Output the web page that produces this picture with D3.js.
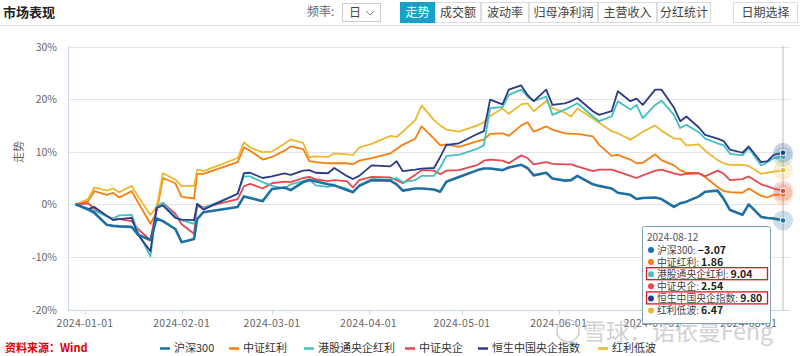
<!DOCTYPE html>
<html><head><meta charset="utf-8">
<script src="https://cdn.jsdelivr.net/npm/d3@7"></script>
<style>
body{margin:0;background:#fff;font-family:"Noto Sans CJK SC","Noto Sans",sans-serif;}
svg{display:block}
</style></head><body>
<svg id="chart" width="800" height="356"></svg>
<script>
const dates = ["2023-12-29","2024-01-02","2024-01-04","2024-01-08","2024-01-10","2024-01-12","2024-01-16","2024-01-18","2024-01-22","2024-01-24","2024-01-26","2024-01-30","2024-02-01","2024-02-05","2024-02-06","2024-02-08","2024-02-19","2024-02-21","2024-02-23","2024-02-27","2024-03-01","2024-03-05","2024-03-07","2024-03-11","2024-03-13","2024-03-15","2024-03-19","2024-03-21","2024-03-25","2024-03-27","2024-03-29","2024-04-02","2024-04-08","2024-04-10","2024-04-12","2024-04-16","2024-04-18","2024-04-22","2024-04-24","2024-04-26","2024-04-30","2024-05-06","2024-05-08","2024-05-10","2024-05-14","2024-05-16","2024-05-20","2024-05-22","2024-05-24","2024-05-28","2024-05-30","2024-06-03","2024-06-05","2024-06-07","2024-06-12","2024-06-14","2024-06-18","2024-06-20","2024-06-24","2024-06-26","2024-06-28","2024-07-02","2024-07-04","2024-07-08","2024-07-10","2024-07-12","2024-07-16","2024-07-18","2024-07-22","2024-07-24","2024-07-26","2024-07-30","2024-08-01","2024-08-05","2024-08-07","2024-08-09","2024-08-12"];

const hs300 = [0,-1.0,-1.6,-3.9,-4.1,-4.2,-4.3,-5.8,-6.8,-2.7,-3.2,-4.7,-7.2,-6.6,-2.8,-1.5,-0.5,1.5,1.2,0.6,2.9,3.2,2.7,4.2,4.6,4.4,3.8,3.6,2.7,2.3,3.5,4.6,4.5,3.8,2.6,3.0,3.0,2.8,2.4,4.3,5.2,6.5,6.8,6.8,6.5,7.0,7.5,6.9,5.5,6.0,4.9,4.5,4.6,5.4,3.8,3.5,3.0,2.2,1.8,1.0,1.2,1.3,1.0,-0.5,0.2,0.5,1.5,2.4,2.6,1.0,-1.1,-2.0,0.0,-2.4,-2.6,-2.7,-3.07];

const zzhl = [0,0.6,2.5,1.8,2.2,1.3,2.5,0.4,-3.7,-1.5,5.0,4.0,1.4,1.1,5.8,5.8,8.0,10.8,10.2,8.5,9.0,10.2,11.0,10.5,8.2,8.0,7.8,7.8,7.8,7.6,8.3,8.8,9.7,10.5,11.3,12.5,14.8,12.5,11.2,11.4,10.9,12.0,12.3,13.4,13.5,13.0,15.0,15.6,13.8,14.8,14.2,13.5,13.4,13.4,12.9,11.3,9.2,9.4,8.5,7.8,7.9,9.5,8.4,7.4,6.5,6.0,5.9,5.2,3.3,2.5,2.3,2.2,3.0,1.6,1.3,1.8,1.86];

const ggtyq = [0,-0.8,-1.2,-2.3,-2.7,-2.1,-2.0,-5.3,-9.9,-0.4,0.3,-2.4,-3.0,-3.7,-0.4,-0.7,2.0,5.3,5.3,4.2,3.5,3.0,3.8,4.4,4.8,3.6,3.3,3.6,3.0,2.3,3.6,4.8,4.7,5.0,4.2,4.6,5.4,5.4,7.0,9.2,9.4,10.6,11.2,18.3,18.5,20.8,21.8,20.5,19.6,20.5,17.0,18.0,18.6,19.2,16.7,15.8,16.7,19.6,18.0,18.9,16.4,18.9,19.7,17.0,14.5,15.1,13.7,12.5,11.6,11.2,9.6,9.3,10.7,7.4,8.0,8.8,9.04];

const zzyq = [0,0.2,-0.8,-2.2,-2.8,-2.8,-3.2,-4.7,-6.8,-0.5,0.25,-1.8,-3.8,-5.6,0.0,-0.6,1.0,3.4,3.9,3.0,4.0,4.3,4.2,5.0,5.2,4.8,4.4,4.6,4.4,3.2,4.6,5.2,5.1,4.6,4.0,5.6,6.5,6.4,5.7,6.4,6.5,7.5,8.3,8.5,8.3,7.8,9.3,8.8,7.6,8.0,7.7,7.6,7.6,7.2,6.3,6.6,6.6,6.2,5.4,5.0,5.5,6.4,6.6,5.9,5.6,5.8,5.9,5.3,6.4,5.8,4.6,4.8,5.3,3.8,3.4,3.0,2.54];

const hszy = [0,-0.9,-0.5,-2.2,-3.0,-2.8,-2.6,-5.8,-8.9,-0.7,-0.2,-2.6,-2.9,-3.0,0.1,-1.0,2.0,5.9,6.0,5.0,5.3,5.9,5.6,6.4,6.5,6.0,5.9,6.9,5.4,4.8,5.4,7.4,7.2,8.2,6.3,6.6,6.8,6.9,9.0,11.3,11.6,13.4,13.9,19.9,19.0,21.8,22.6,20.8,19.6,21.8,18.9,19.2,19.6,20.2,17.7,17.0,17.7,21.5,19.6,20.1,18.9,21.8,21.8,18.4,15.8,16.7,14.6,13.2,12.5,12.0,10.4,9.8,11.0,8.0,8.2,9.4,9.80];

const hldb = [0,1.0,3.2,2.6,3.0,2.3,3.5,1.5,-2.0,-0.5,5.9,4.7,3.5,3.5,6.6,6.3,8.8,11.8,10.8,9.9,10.0,11.5,12.3,11.7,8.9,9.1,9.0,9.7,9.5,9.4,10.8,11.5,13.0,12.8,13.8,16.0,18.8,16.0,15.0,14.2,13.8,15.0,15.6,16.8,18.2,17.2,19.0,19.2,17.7,19.6,18.3,17.4,16.7,18.2,16.3,15.5,13.9,13.5,12.3,13.0,13.8,15.0,14.0,12.5,12.5,11.2,11.4,10.2,8.4,7.8,7.5,7.5,7.3,5.8,6.0,6.2,6.47];

const seriesNames = ["沪深300","中证红利","港股通央企红利","中证央企","恒生中国央企指数","红利低波"];
const seriesValues = [hs300, zzhl, ggtyq, zzyq, hszy, hldb];
const seriesColors = ["#1f6fa3","#f77f0e","#45bfc0","#e8474c","#2c3a88","#e9b931"];
const yTicks = [-20,-10,0,10,20,30];
const xTickLabels = ["2024-01-01","2024-02-01","2024-03-01","2024-04-01","2024-05-01","2024-06-01","2024-07-01","2024-08-01"];
const tooltipDate = "2024-08-12";
const highlighted = ["港股通央企红利","恒生中国央企指数"];
const navButtons = ["走势","成交额","波动率","归母净利润","主营收入","分红统计"];

const svg = d3.select("#chart");
const parse = d3.utcParse("%Y-%m-%d");
const dts = dates.map(parse);

const x = d3.scaleUtc().domain([parse("2024-01-01"), parse("2024-08-12")]).range([85, 783]);
const y = d3.scaleLinear().domain([-20, 30]).range([309.5, 46.5]);
const plotL = 68, plotR = 790;

// Header
svg.append("text").attr("x",3).attr("y",17).attr("font-size",13).attr("font-weight","bold").attr("fill","#222").text("市场表现");
svg.append("line").attr("x1",0).attr("x2",800).attr("y1",25.5).attr("y2",25.5).attr("stroke","#ddd");
svg.append("text").attr("x",307).attr("y",16).attr("font-size",12).attr("fill","#666").text("频率:");
svg.append("rect").attr("x",342.5).attr("y",3.5).attr("width",38).attr("height",18).attr("fill","#fff").attr("stroke","#ccc");
svg.append("text").attr("x",349).attr("y",17).attr("font-size",12).attr("fill","#444").text("日");
svg.append("path").attr("d","M366,11 L370,15 L374,11").attr("fill","none").attr("stroke","#888").attr("stroke-width",1);

const btnEdges = [400,435,481,529,598,657,711];
navButtons.forEach((t,i)=>{
  const x0 = btnEdges[i], w = btnEdges[i+1]-btnEdges[i];
  svg.append("rect").attr("x",x0+0.5).attr("y",2.5).attr("width",w-1).attr("height",20)
    .attr("fill", i===0 ? "#18a0c6" : "#fff").attr("stroke", i===0 ? "#18a0c6" : "#ddd");
  svg.append("text").attr("x",x0+w/2).attr("y",17).attr("text-anchor","middle").attr("font-size",12)
    .attr("fill", i===0 ? "#fff" : "#444").text(t);
});
svg.append("rect").attr("x",733.5).attr("y",2.5).attr("width",64).attr("height",20).attr("fill","#fff").attr("stroke","#ddd");
svg.append("text").attr("x",765.5).attr("y",17).attr("text-anchor","middle").attr("font-size",12).attr("fill","#444").text("日期选择");

// Grid
svg.append("g").selectAll("line").data(yTicks).join("line")
  .attr("x1",plotL).attr("x2",plotR).attr("y1",d=>Math.round(y(d))+0.5).attr("y2",d=>Math.round(y(d))+0.5)
  .attr("stroke",d=>d===-20?"#c8d6e8":"#e4e4e4");

// Y axis
svg.append("line").attr("x1",plotL+0.5).attr("x2",plotL+0.5).attr("y1",46).attr("y2",310).attr("stroke","#c8d6e8");
svg.append("g").selectAll("text").data(yTicks).join("text")
  .attr("x",57).attr("y",d=>y(d)+4).attr("text-anchor","end").attr("font-size",10.5).attr("fill","#666")
  .text(d=>d+"%");
svg.append("text").attr("transform","translate(23,152) rotate(-90)").attr("text-anchor","middle")
  .attr("font-size",11).attr("fill","#666").text("走势");

// X axis
const xt = xTickLabels.map(parse);
svg.append("g").selectAll("line").data(xt).join("line")
  .attr("x1",d=>Math.round(x(d))+0.5).attr("x2",d=>Math.round(x(d))+0.5).attr("y1",310).attr("y2",315).attr("stroke","#c8d6e8");
svg.append("g").selectAll("text").data(xt).join("text")
  .attr("x",d=>x(d)).attr("y",327).attr("text-anchor","middle").attr("font-size",10.5).attr("fill","#666")
  .attr("letter-spacing",0.3).text(d=>d3.utcFormat("%Y-%m-%d")(d));

// Lines
const line = d3.line().x((d,i)=>x(dts[i])).y(d=>y(d)).curve(d3.curveLinear);
const drawOrder = [1,5,3,2,4,0];
drawOrder.forEach(k=>{
  svg.append("path").datum(seriesValues[k]).attr("d",line).attr("fill","none")
    .attr("stroke",seriesColors[k]).attr("stroke-width",k===0?2.6:1.8).attr("stroke-linejoin","round");
});

// Crosshair
const lastDate = parse(tooltipDate);
svg.append("line").attr("x1",x(lastDate)).attr("x2",x(lastDate)).attr("y1",46).attr("y2",310).attr("stroke","#bbb");

// End markers
seriesValues.forEach((vals,k)=>{
  const v = vals[vals.length-1];
  svg.append("circle").attr("cx",x(lastDate)).attr("cy",y(v)).attr("r",10).attr("fill",seriesColors[k]).attr("opacity",0.22);
  svg.append("circle").attr("cx",x(lastDate)).attr("cy",y(v)).attr("r",2.8).attr("fill",seriesColors[k]).attr("stroke","#fff").attr("stroke-width",1);
});

// Watermark
svg.append("circle").attr("cx",568).attr("cy",331).attr("r",11).attr("fill","none").attr("stroke","#c8c8c8").attr("stroke-width",1.6).attr("opacity",0.8);
svg.append("text").attr("x",583).attr("y",340).attr("font-size",23).attr("fill","#c4c4c4").attr("opacity",0.75).text("雪球：诺依曼Feng");

// Tooltip
const tg = svg.append("g");
tg.append("rect").attr("x",642.5).attr("y",226.5).attr("width",128).attr("height",97).attr("rx",2)
  .attr("fill","#fff").attr("fill-opacity",0.93).attr("stroke","#7aa6b8");
tg.append("text").attr("x",647).attr("y",241).attr("font-size",10).attr("fill","#555").text(tooltipDate);
seriesNames.forEach((n,k)=>{
  const cy = 250 + k*12.1;
  const v = seriesValues[k][seriesValues[k].length-1];
  tg.append("circle").attr("cx",651).attr("cy",cy).attr("r",3).attr("fill",seriesColors[k]);
  const t = tg.append("text").attr("x",657).attr("y",cy+3.8).attr("font-size",9.8).attr("fill","#444");
  t.append("tspan").text(n+": ");
  t.append("tspan").attr("font-weight","bold").attr("font-size",10.5).attr("fill","#222").text(d3.format(".2f")(v).replace("-","−"));
  if (highlighted.includes(n)) {
    tg.append("rect").attr("x",646.5).attr("y",cy-6.5).attr("width",121).attr("height",12).attr("fill","none")
      .attr("stroke","#e0141e").attr("stroke-width",1.3);
  }
});

// Source
svg.append("text").attr("x",5).attr("y",352).attr("font-size",11).attr("font-weight","bold").attr("fill","#e00000").text("资料来源：Wind");

// Legend
const legX = [160,229,304,405,478,598];
seriesNames.forEach((n,k)=>{
  svg.append("line").attr("x1",legX[k]).attr("x2",legX[k]+10).attr("y1",348.5).attr("y2",348.5)
    .attr("stroke",seriesColors[k]).attr("stroke-width",2.5);
  svg.append("text").attr("x",legX[k]+14).attr("y",352).attr("font-size",11).attr("fill","#333").text(n);
});
</script></body></html>
